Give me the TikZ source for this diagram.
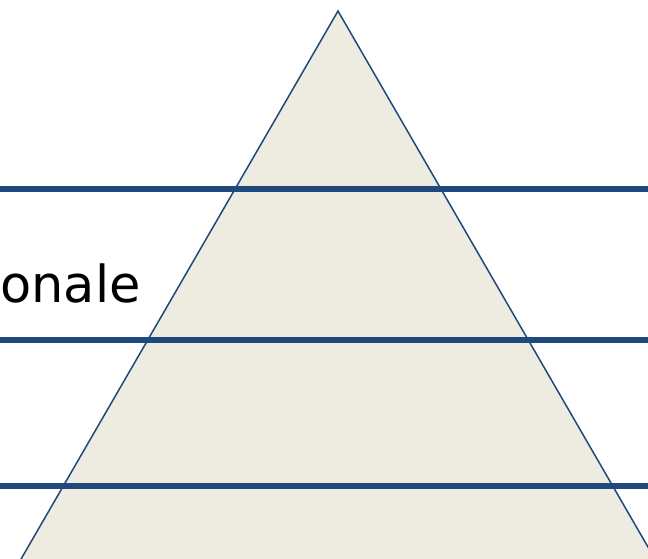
\documentclass[tikz,border=0pt]{standalone}
\usepackage{fontspec}
\setmainfont{DejaVu Sans}
\definecolor{lineblue}{HTML}{1F497D}
\definecolor{pyrfill}{HTML}{EEECE1}
\begin{document}
\begin{tikzpicture}[x=1pt,y=-1pt,
  level/.style={draw=lineblue,line width=5.5pt},
  pyr/.style={draw=lineblue,fill=pyrfill,line width=1.5pt,line join=miter}]
\useasboundingbox (0,0) rectangle (648,558);
\clip (0,0) rectangle (648,558);
\coordinate (apex) at (338,11);
\coordinate (bl) at (-20,630);
\coordinate (br) at (696,630);
\draw[pyr] (apex) -- (br) -- (bl) -- cycle;
\coordinate (l1a) at (0,189); \coordinate (l1b) at (648,189);
\coordinate (l2a) at (0,340); \coordinate (l2b) at (648,340);
\coordinate (l3a) at (0,486); \coordinate (l3b) at (648,486);
\draw[level] (l1a) -- (l1b);
\draw[level] (l2a) -- (l2b);
\draw[level] (l3a) -- (l3b);
\node[anchor=base west,inner sep=0pt,font=\fontsize{51}{58}\selectfont] (txt) at (0,302) {onale};
\end{tikzpicture}
\end{document}
